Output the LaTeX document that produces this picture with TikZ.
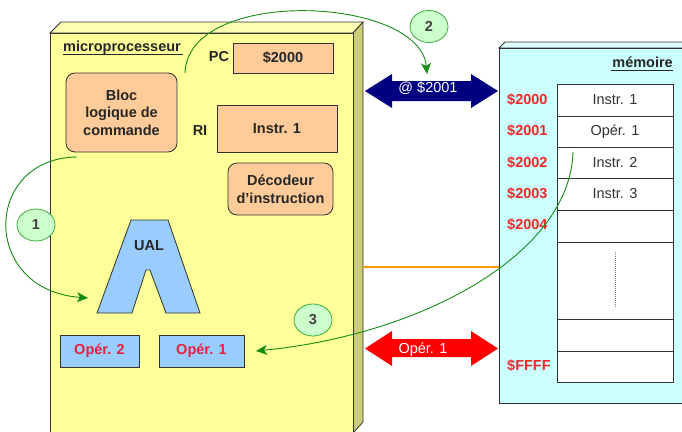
\documentclass[tikz,border=0pt]{standalone}
\usepackage{fontspec}
\setmainfont{Liberation Sans}
\usetikzlibrary{shapes.geometric,arrows.meta}
\definecolor{cpuface}{RGB}{255,255,153}
\definecolor{cpuside}{RGB}{204,204,119}
\definecolor{cputop}{RGB}{255,255,178}
\definecolor{memface}{RGB}{204,255,255}
\definecolor{memtop}{RGB}{220,255,255}
\definecolor{peach}{RGB}{255,204,153}
\definecolor{ltblue}{RGB}{153,204,255}
\definecolor{addrred}{RGB}{240,40,40}
\definecolor{operred}{RGB}{235,30,60}
\definecolor{navyarr}{RGB}{0,0,128}
\definecolor{redarr}{RGB}{255,0,0}
\definecolor{stepgreen}{RGB}{20,140,20}
\definecolor{circfill}{RGB}{204,255,204}
\definecolor{circline}{RGB}{60,170,60}
\definecolor{edgecol}{RGB}{50,50,50}
\definecolor{busorange}{RGB}{255,153,0}
\begin{document}
\begin{tikzpicture}[x=1pt,y=-1pt,
  every node/.style={font=\fontsize{14.5}{17.5}\selectfont},
  bfont/.style={font=\fontsize{14.5}{17.5}\selectfont\bfseries},
  reg/.style={draw=edgecol,line width=0.8pt,fill=peach,inner sep=0pt,bfont,text=black!85,align=center},
  opbox/.style={draw=edgecol,line width=0.8pt,fill=ltblue,inner sep=0pt,bfont,text=operred,minimum height=32pt},
  cell/.style={draw=edgecol,line width=0.9pt,fill=white,minimum width=116pt,inner sep=0pt,outer sep=0pt,text=black!80},
  addr/.style={bfont,text=addrred,anchor=west,inner sep=0pt},
  lbl/.style={bfont,text=black!85,inner sep=0pt},
  stepnum/.style={ellipse,draw=circline,line width=0.8pt,fill=circfill,minimum width=38pt,minimum height=32pt,inner sep=0pt,bfont,text=black!75},
  greenarrow/.style={draw=stepgreen,line width=0.9pt,-{Stealth[length=11pt,width=10pt,inset=3pt]}},
  buslabel/.style={text=white,inner sep=0pt}
]
\useasboundingbox (0,0) rectangle (682,431);

% ---------- microprocessor 3D box ----------
\fill[cputop,draw=edgecol,line width=0.8pt] (50,33) -- (61,22) -- (363,22) -- (353,33) -- cycle;
\fill[cpuside,draw=edgecol,line width=0.8pt] (353,33) -- (363,22) -- (363,422) -- (353,433) -- cycle;
\fill[cpuface,draw=edgecol,line width=0.8pt] (50,33) rectangle (353,445);

% ---------- memory 3D box ----------
\fill[memtop,draw=edgecol,line width=0.8pt] (499,48) -- (505,42) -- (700,42) -- (700,48) -- cycle;
\fill[memface,draw=edgecol,line width=0.8pt] (499,48) rectangle (700,403);

% ---------- labels ----------
\node[lbl,anchor=base west] (cpulbl) at (63,51) {microprocesseur};
\draw[line width=1.8pt,black!85] (63,54.5) -- (183,54.5);
\node[lbl,anchor=base east] (memlbl) at (673,67) {mémoire};
\draw[line width=1.8pt,black!85] (611,70.5) -- (673,70.5);

% ---------- CPU contents ----------
\node[lbl] (pclbl) at (219,57) {PC};
\node[reg,minimum width=100pt,minimum height=30pt] (pc) at (283,58) {\$2000};
\node[reg,rounded corners=9pt,minimum width=111pt,minimum height=79pt] (bloc) at (121.5,112.5) {Bloc\\logique de\\commande};
\node[lbl] (rilbl) at (200,131) {RI};
\node[reg,minimum width=120pt,minimum height=47pt] (ri) at (277,128.5) {Instr. 1};
\node[reg,rounded corners=9pt,minimum width=105pt,minimum height=52pt] (dec) at (280.5,189) {Décodeur\\d’instruction};

\fill[ltblue,draw=edgecol,line width=0.8pt] (131,220) -- (168,220) -- (200,313) -- (166,313) -- (150,270) -- (146,270) -- (132,313) -- (97,313) -- cycle;
\node[lbl] (ual) at (149,246) {UAL};

\node[opbox,minimum width=79pt] (op2) at (99.5,351) {Opér. 2};
\node[opbox,minimum width=85pt] (op1) at (201.5,351) {Opér. 1};

% ---------- memory cells ----------
\node[cell,minimum height=32pt] (m1) at (615,100) {Instr. 1};
\node[cell,minimum height=31pt,anchor=north] (m2) at (m1.south) {Opér. 1};
\node[cell,minimum height=31pt,anchor=north] (m3) at (m2.south) {Instr. 2};
\node[cell,minimum height=32pt,anchor=north] (m4) at (m3.south) {Instr. 3};
\node[cell,minimum height=32pt,anchor=north] (m5) at (m4.south) {};
\node[cell,minimum height=77pt,anchor=north] (m6) at (m5.south) {};
\node[cell,minimum height=32pt,anchor=north] (m7) at (m6.south) {};
\node[cell,minimum height=31pt,anchor=north] (m8) at (m7.south) {};
\draw[gray,line width=1pt,densely dotted] ([yshift=-10pt]m6.north) -- ([yshift=12pt]m6.south);

\node[addr] (a0) at (507,100) {\$2000};
\node[addr] (a1) at (507,131) {\$2001};
\node[addr] (a2) at (507,163) {\$2002};
\node[addr] (a3) at (507,194) {\$2003};
\node[addr] (a4) at (507,225) {\$2004};
\node[addr] (af) at (507,366) {\$FFFF};

% ---------- buses ----------
\coordinate (busL) at (363,267);
\coordinate (busR) at (499,267);
\draw[busorange,line width=2pt] (busL) -- (busR);

\fill[navyarr] (365,91) -- (392,74) -- (392,81) -- (471,81) -- (471,74) -- (498,91) -- (471,108) -- (471,101) -- (392,101) -- (392,108) -- cycle;
\node[buslabel] (addrbus) at (428,88) {@ \$2001};

\fill[redarr] (365,348.5) -- (392,331) -- (392,339) -- (471,339) -- (471,331) -- (498,348.5) -- (471,366) -- (471,357) -- (392,357) -- (392,366) -- cycle;
\node[buslabel] (databus) at (423,350) {Opér. 1};

% ---------- steps ----------
\node[stepnum] (s1) at (36,225) {1};
\node[stepnum] (s2) at (429,26.5) {2};
\node[stepnum] (s3) at (313,320) {3};

\coordinate (g1s) at (77,157);
\coordinate (g1e) at (88,298);
\draw[greenarrow] (g1s) .. controls (-17,158) and (-20,290) .. (g1e);

\coordinate (g2s) at (185,73);
\coordinate (g2e) at (427,74);
\draw[greenarrow] (g2s) .. controls (188,-14) and (420,-4) .. (g2e);

\coordinate (g3s) at (573,152);
\coordinate (g3e) at (256,351);
\draw[greenarrow] (g3s) .. controls (570,255) and (420,335) .. (g3e);
\end{tikzpicture}
\end{document}
